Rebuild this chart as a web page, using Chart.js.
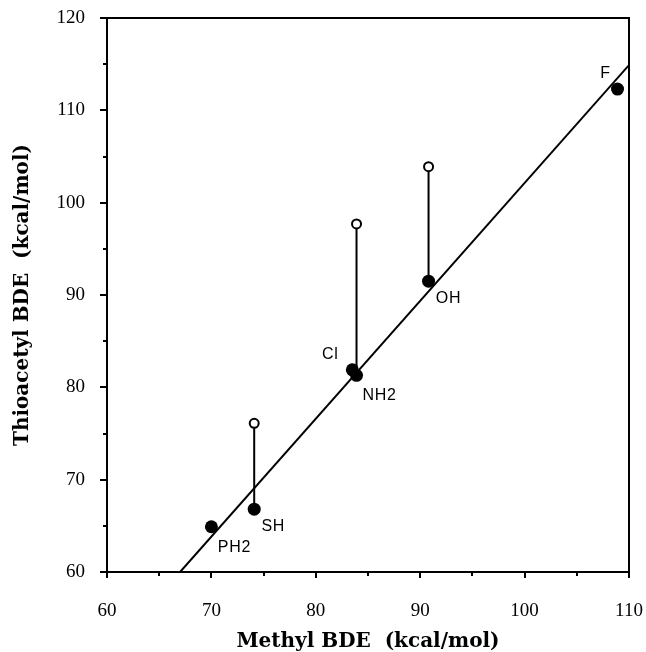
<!DOCTYPE html>
<html><head><meta charset="utf-8">
<script src="https://cdn.jsdelivr.net/npm/chart.js@4.4.1/dist/chart.umd.min.js"></script>
<style>html,body{margin:0;padding:0;background:#fff;}canvas{display:block;}</style>
</head><body>
<canvas id="c" width="646" height="652"></canvas>
<script>
// ---- data ----
const substituents = ['PH2', 'SH', 'NH2', 'Cl', 'OH', 'F'];
const methylBDE = [70.0, 74.1, 83.9, 83.5, 90.8, 108.9];
const thioacetylBDE = [64.9, 66.8, 81.3, 81.9, 91.5, 112.3];
const openMethylBDE = [74.1, 83.9, 90.8];
const openThioacetylBDE = [76.1, 97.7, 103.9];
const fitX = [67.0, 110];
const fitY = [60, 114.9];
const xTicks = [60, 70, 80, 90, 100, 110];
const yTicks = [60, 70, 80, 90, 100, 110, 120];

// ---- styles (label offsets in px) ----
const labelOffsets = {PH2:[23,21], SH:[19,17], NH2:[23,20], Cl:[-22,-15], OH:[20,17], F:[-12,-16]};

const filled = methylBDE.map((x, i) => ({x, y: thioacetylBDE[i], label: substituents[i]}));
const open = openMethylBDE.map((x, i) => ({x, y: openThioacetylBDE[i]}));
const connectors = openMethylBDE.map((x, i) => {
  const j = methylBDE.findIndex((m, k) => m === x && substituents[k] !== 'Cl');
  return {
    type: 'line', data: [{x, y: openThioacetylBDE[i]}, {x, y: thioacetylBDE[j]}],
    borderColor: '#000', borderWidth: 2, pointRadius: 0, order: 3
  };
});

const frameAndTicks = {
  id: 'frameAndTicks',
  afterDraw(chart) {
    const {ctx, chartArea: a, scales: {x, y}} = chart;
    ctx.save();
    ctx.strokeStyle = '#000';
    ctx.lineWidth = 2;
    ctx.strokeRect(a.left, a.top, a.right - a.left, a.bottom - a.top);
    ctx.beginPath();
    for (let v = 60; v <= 110; v += 5) {
      const p = Math.round(x.getPixelForValue(v));
      const len = v % 10 === 0 ? 6 : 4;
      ctx.moveTo(p, a.bottom); ctx.lineTo(p, a.bottom + len);
    }
    for (let v = 60; v <= 120; v += 5) {
      const p = Math.round(y.getPixelForValue(v));
      const len = v % 10 === 0 ? 7 : 4;
      ctx.moveTo(a.left, p); ctx.lineTo(a.left - len, p);
    }
    ctx.stroke();
    // point labels
    ctx.fillStyle = '#000';
    ctx.font = '16px "Liberation Sans", Arial, sans-serif';
    try { ctx.letterSpacing = '0.7px'; } catch (e) {}
    ctx.textAlign = 'center';
    ctx.textBaseline = 'middle';
    filled.forEach(p => {
      const off = labelOffsets[p.label];
      ctx.fillText(p.label, x.getPixelForValue(p.x) + off[0], y.getPixelForValue(p.y) + off[1]);
    });
    ctx.restore();
  }
};

const serif = '"Liberation Serif", "Times New Roman", serif';
const titleFont = '"DejaVu Serif", serif';

new Chart(document.getElementById('c'), {
  type: 'scatter',
  data: {
    datasets: [
      {type: 'line', data: fitX.map((x, i) => ({x, y: fitY[i]})), borderColor: '#000', borderWidth: 2, pointRadius: 0, order: 4},
      ...connectors,
      {data: open, pointRadius: 4.5, pointBackgroundColor: '#fff', pointBorderColor: '#000', pointBorderWidth: 2, pointHoverRadius: 4.5, order: 1},
      {data: filled, pointRadius: 6.5, pointBackgroundColor: '#000', pointBorderColor: '#000', pointBorderWidth: 0, order: 0}
    ]
  },
  options: {
    responsive: false,
    devicePixelRatio: 1,
    animation: false,
    events: [],
    layout: {padding: {left: 0, top: 18, right: 17, bottom: 0}},
    plugins: {legend: {display: false}, tooltip: {enabled: false}},
    scales: {
      x: {
        type: 'linear', min: 60, max: 110,
        afterBuildTicks: s => { s.ticks = xTicks.map(v => ({value: v})); },
        afterFit: s => { s.height = 80; s.paddingLeft = 0; s.paddingRight = 0; },
        grid: {display: false}, border: {display: false},
        ticks: {color: '#000', font: {family: serif, size: 19}, padding: 20, maxRotation: 0},
        title: {display: true, text: 'Methyl BDE  (kcal/mol)', color: '#000',
                font: {family: titleFont, size: 20, weight: 'bold'}, padding: {top: 0, bottom: -2}}
      },
      y: {
        type: 'linear', min: 60, max: 120,
        afterBuildTicks: s => { s.ticks = yTicks.map(v => ({value: v})); },
        afterFit: s => { s.width = 107; s.paddingTop = 0; s.paddingBottom = 0; },
        grid: {display: false}, border: {display: false},
        ticks: {color: '#000', font: {family: serif, size: 19}, padding: 14},
        title: {display: true, text: 'Thioacetyl BDE  (kcal/mol)', color: '#000',
                font: {family: titleFont, size: 20, weight: 'bold'}, padding: {top: 11, bottom: 0}}
      }
    }
  },
  plugins: [frameAndTicks]
});
</script>
</body></html>
